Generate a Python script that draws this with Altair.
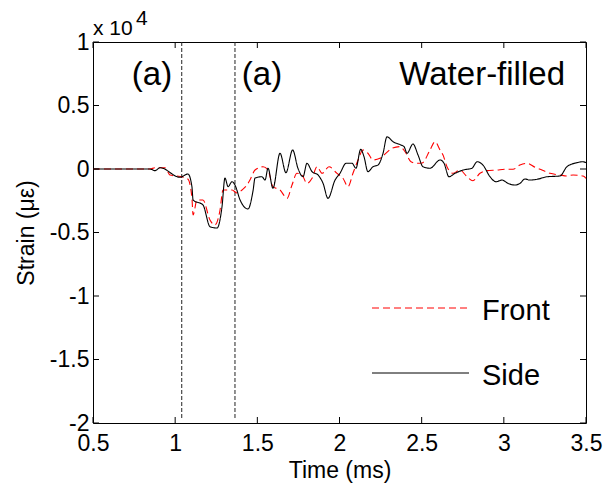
import altair as alt
import pandas as pd

# Strain values in units of 10^4 microstrain, time in ms
side_time = [0.5, 0.847, 0.877, 0.908, 1.029, 1.078, 1.102, 1.109, 1.169, 1.212, 1.255, 1.285,
             1.303, 1.322, 1.346, 1.364, 1.395, 1.443, 1.474, 1.486, 1.528, 1.547, 1.565, 1.595,
             1.638, 1.674, 1.715, 1.747, 1.778, 1.802, 1.833, 1.869, 1.900, 1.930, 1.973, 2.003,
             2.040, 2.076, 2.100, 2.129, 2.149, 2.173, 2.204, 2.234, 2.265, 2.289, 2.326, 2.374,
             2.393, 2.411, 2.447, 2.478, 2.508, 2.551, 2.612, 2.636, 2.666, 2.703, 2.752, 2.806,
             2.837, 2.873, 2.916, 2.952, 2.989, 3.025, 3.068, 3.098, 3.129, 3.159, 3.202, 3.263,
             3.342, 3.384, 3.445, 3.482, 3.5]
side_strain = [0.0, 0.0, -0.013, 0.010, -0.065, -0.039, -0.139, -0.244, -0.283, -0.454, -0.465, -0.297,
               -0.071, -0.139, -0.100, -0.126, -0.244, -0.315, -0.170, -0.071, -0.061, -0.087, 0.006, -0.152,
               0.124, -0.029, 0.150, 0.006, -0.061, 0.045, -0.021, -0.047, -0.113, -0.231, -0.087, -0.034,
               0.045, 0.045, 0.006, 0.155, 0.097, -0.021, 0.018, 0.031, 0.124, 0.254, 0.215, 0.189,
               0.176, 0.124, 0.197, 0.110, 0.018, 0.006, 0.071, 0.045, -0.061, -0.034, -0.008, 0.006,
               0.057, 0.031, -0.061, -0.100, -0.087, -0.113, -0.126, -0.113, -0.079, -0.087, -0.081, -0.061,
               -0.055, 0.018, 0.050, 0.057, 0.050]

front_time = [0.5, 0.847, 0.877, 0.938, 0.969, 1.048, 1.078, 1.102, 1.109, 1.133, 1.169, 1.212,
              1.242, 1.273, 1.291, 1.346, 1.376, 1.407, 1.437, 1.455, 1.486, 1.535, 1.565, 1.595,
              1.638, 1.681, 1.711, 1.741, 1.772, 1.802, 1.833, 1.863, 1.894, 1.936, 1.985, 2.021,
              2.052, 2.082, 2.113, 2.143, 2.173, 2.204, 2.246, 2.271, 2.320, 2.368, 2.399, 2.435,
              2.472, 2.502, 2.551, 2.581, 2.612, 2.630, 2.654, 2.691, 2.733, 2.776, 2.812, 2.855,
              2.898, 2.958, 3.007, 3.056, 3.098, 3.141, 3.190, 3.232, 3.281, 3.342, 3.384, 3.421,
              3.482, 3.5]
front_strain = [0.0, 0.0, 0.010, 0.010, -0.047, -0.063, -0.080, -0.228, -0.362, -0.244, -0.244, -0.402,
                -0.441, -0.323, -0.165, -0.165, -0.189, -0.165, -0.126, -0.087, -0.008, 0.018, -0.008, -0.139,
                -0.165, -0.231, -0.126, -0.034, -0.047, -0.113, -0.073, 0.018, -0.034, 0.018, -0.034, -0.073,
                -0.139, -0.034, 0.071, 0.150, 0.124, 0.071, 0.084, 0.110, 0.163, 0.176, 0.136, 0.057,
                0.045, 0.047, 0.150, 0.215, 0.150, 0.110, 0.018, -0.034, -0.008, -0.061, -0.092, -0.034,
                -0.013, -0.008, -0.002, -0.002, 0.031, 0.045, 0.013, -0.008, -0.034, -0.047, -0.055, -0.047,
                -0.055, -0.073]

series_names = ["Front", "Side"]
x_ticks = [0.5, 1, 1.5, 2, 2.5, 3, 3.5]
y_ticks = [-2, -1.5, -1, -0.5, 0, 0.5, 1]
marker_times = [1.04, 1.364]

FONT = "Liberation Sans"
W, H = 493, 381

df = pd.concat([
    pd.DataFrame({"time": front_time, "strain": front_strain, "series": "Front"}),
    pd.DataFrame({"time": side_time, "strain": side_strain, "series": "Side"}),
])

xs = alt.Scale(domain=[0.5, 3.5], nice=False, zero=False)
ys = alt.Scale(domain=[-2, 1], nice=False, zero=False)

lines = alt.Chart(df).mark_line(strokeWidth=1.1, clip=True, interpolate="monotone").encode(
    x=alt.X("time:Q", scale=xs, axis=alt.Axis(
        values=x_ticks, labelExpr="datum.value + ''", ticks=False, tickSize=0, domain=False, grid=False,
        labelFont=FONT, labelFontSize=23, labelColor="black", labelPadding=9,
        title="Time (ms)", titleFont=FONT, titleFontSize=23, titleFontWeight="normal", titleColor="black",
        titleBaseline="alphabetic", titleY=54, labelFlush=False, labelOverlap=False)),
    y=alt.Y("strain:Q", scale=ys, axis=alt.Axis(
        values=y_ticks, labelExpr="datum.value + ''", ticks=False, tickSize=0, domain=False, grid=False,
        labelFont=FONT, labelFontSize=23, labelColor="black", labelPadding=4,
        title="Strain (με)", titleFont=FONT, titleFontSize=23, titleFontWeight="normal", titleColor="black",
        titleAngle=270, titleBaseline="alphabetic", titleAlign="center", titleX=-60, titleY=190.5,
        labelFlush=False, labelOverlap=False)),
    color=alt.Color("series:N", scale=alt.Scale(domain=series_names, range=["#ff0000", "#000000"]), legend=None),
    strokeDash=alt.StrokeDash("series:N", scale=alt.Scale(domain=series_names, range=[[7, 4], [1, 0]]), legend=None),
)

xt = pd.DataFrame({"time": x_ticks})
yt = pd.DataFrame({"strain": y_ticks})
tick_b = alt.Chart(xt).mark_rule(color="black", strokeWidth=1).encode(
    x=alt.X("time:Q", scale=xs), y=alt.value(H), y2=alt.value(H - 6))
tick_t = alt.Chart(xt).mark_rule(color="black", strokeWidth=1).encode(
    x=alt.X("time:Q", scale=xs), y=alt.value(0), y2=alt.value(6))
tick_l = alt.Chart(yt).mark_rule(color="black", strokeWidth=1).encode(
    y=alt.Y("strain:Q", scale=ys), x=alt.value(0), x2=alt.value(6))
tick_r = alt.Chart(yt).mark_rule(color="black", strokeWidth=1).encode(
    y=alt.Y("strain:Q", scale=ys), x=alt.value(W), x2=alt.value(W - 6))

markers = alt.Chart(pd.DataFrame({"time": marker_times})).mark_rule(
    color="#222222", strokeWidth=1, strokeDash=[4, 2]).encode(
    x=alt.X("time:Q", scale=xs), y=alt.value(0), y2=alt.value(H - 5))

ann = pd.DataFrame({"txt": ["(a)", "(a)", "Water-filled"]})
ann_a1 = alt.Chart(ann.iloc[[0]]).mark_text(font=FONT, fontSize=33, align="center", baseline="alphabetic", color="black").encode(
    text="txt:N", x=alt.value(59), y=alt.value(43))
ann_a2 = alt.Chart(ann.iloc[[1]]).mark_text(font=FONT, fontSize=33, align="center", baseline="alphabetic", color="black").encode(
    text="txt:N", x=alt.value(169), y=alt.value(43))
ann_w = alt.Chart(ann.iloc[[2]]).mark_text(font=FONT, fontSize=33, align="right", baseline="alphabetic", color="black").encode(
    text="txt:N", x=alt.value(472), y=alt.value(43))

exp_base = alt.Chart(pd.DataFrame({"txt": ["x 10"]})).mark_text(font=FONT, fontSize=21, align="left", baseline="alphabetic", color="black").encode(
    text="txt:N", x=alt.value(0), y=alt.value(-7))
exp_pow = alt.Chart(pd.DataFrame({"txt": ["4"]})).mark_text(font=FONT, fontSize=21, align="left", baseline="alphabetic", color="black").encode(
    text="txt:N", x=alt.value(43), y=alt.value(-17))

leg_front_line = alt.Chart(pd.DataFrame({"series": ["Front"]})).mark_rule(color="#ff0000", strokeWidth=1, strokeDash=[7, 4]).encode(
    x=alt.value(279), x2=alt.value(376), y=alt.value(266))
leg_side_line = alt.Chart(pd.DataFrame({"series": ["Side"]})).mark_rule(color="#000000", strokeWidth=1).encode(
    x=alt.value(279), x2=alt.value(376), y=alt.value(331))
leg_front_txt = alt.Chart(pd.DataFrame({"series": ["Front"]})).mark_text(font=FONT, fontSize=29, align="left", baseline="alphabetic", color="black").encode(
    text="series:N", x=alt.value(389), y=alt.value(278))
leg_side_txt = alt.Chart(pd.DataFrame({"series": ["Side"]})).mark_text(font=FONT, fontSize=29, align="left", baseline="alphabetic", color="black").encode(
    text="series:N", x=alt.value(389), y=alt.value(343))

chart = alt.layer(
    markers, lines, tick_b, tick_t, tick_l, tick_r,
    ann_a1, ann_a2, ann_w, exp_base, exp_pow,
    leg_front_line, leg_side_line, leg_front_txt, leg_side_txt,
).properties(
    width=W, height=H,
    autosize=alt.AutoSizeParams(type="none"),
    padding={"left": 93, "top": 42, "right": 25, "bottom": 61},
    background="white",
).configure_view(stroke="black", strokeWidth=1)

chart.save("out.html", embed_options={"renderer": "svg", "actions": False})
